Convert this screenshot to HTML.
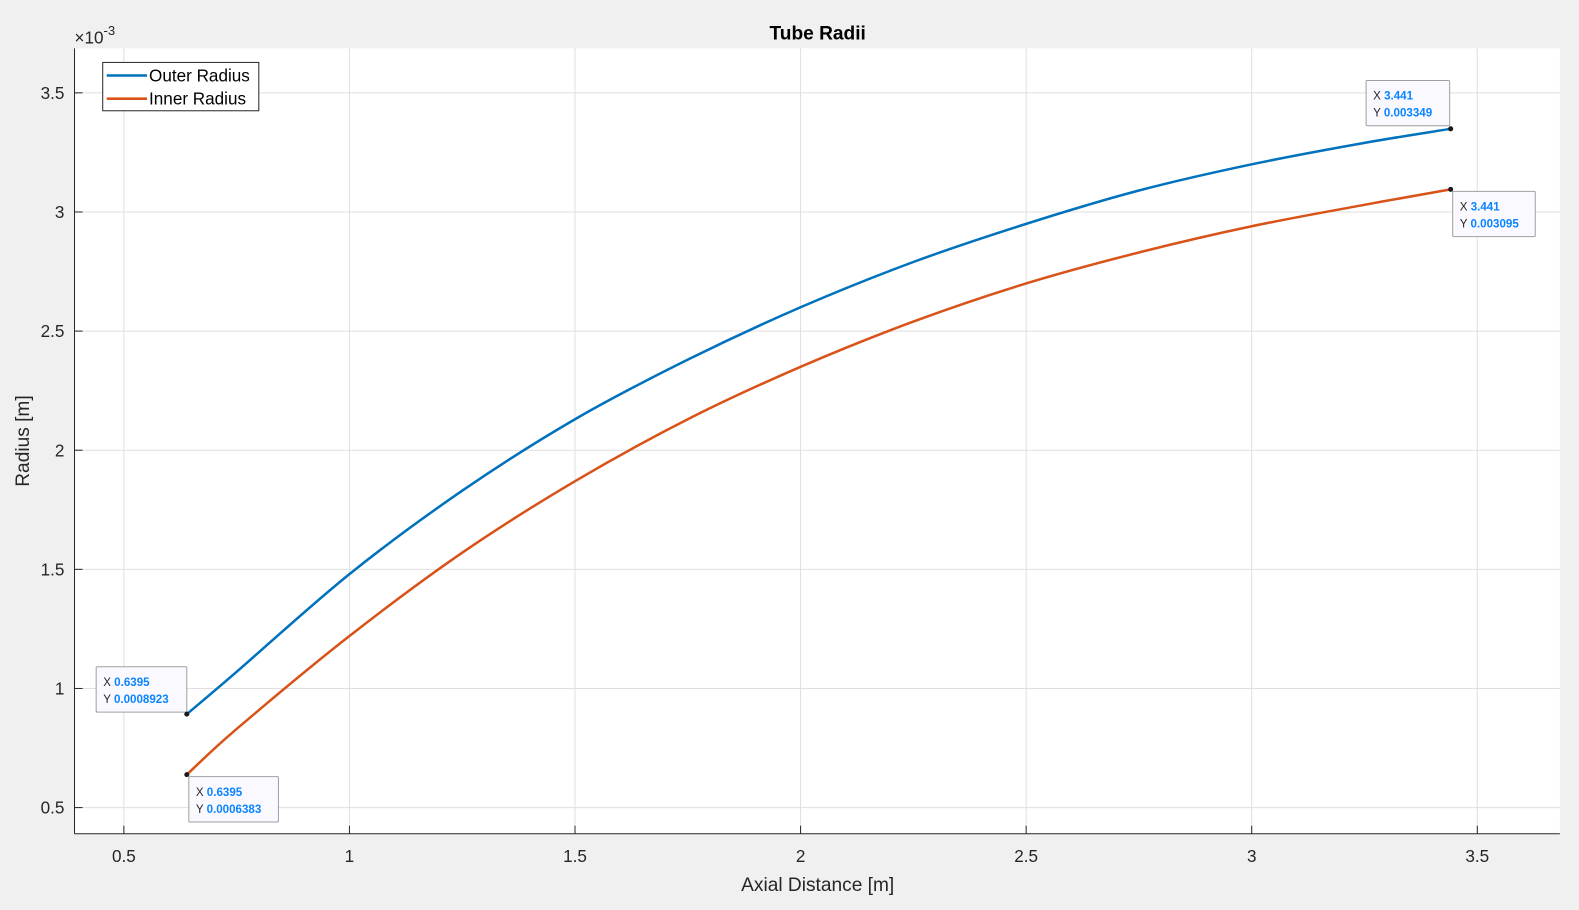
<!DOCTYPE html>
<html><head><meta charset="utf-8"><style>
body{margin:0;background:#f0f0f0;}
svg{display:block;font-family:"Liberation Sans",Arial,sans-serif;}
</style></head><body>
<svg id="chart" width="1579" height="910" viewBox="0 0 1568 903.7" preserveAspectRatio="none">
<rect x="74" y="48" width="1475" height="780" fill="#fff"/>
<g id="grid"></g><g id="axes"></g><g id="series"></g><g id="tips"></g>
<text x="812" y="39" text-anchor="middle" font-size="19" font-weight="bold" fill="#000">Tube Radii</text>
<text x="812" y="885" text-anchor="middle" font-size="19" fill="#262626">Axial Distance [m]</text>
<text transform="translate(29,438) rotate(-90)" text-anchor="middle" font-size="19" fill="#262626">Radius [m]</text>
<text x="74" y="43" font-size="17" fill="#262626">×10<tspan dy="-8" font-size="13">-3</tspan></text>
<g>
<rect x="102" y="62" width="155" height="48" fill="#fff" stroke="#262626" stroke-width="1"/>
<line x1="106" y1="75" x2="146" y2="75" stroke="#0072bd" stroke-width="2.5"/>
<text x="148" y="81" font-size="17" fill="#000">Outer Radius</text>
<line x1="106" y1="98" x2="146" y2="98" stroke="#d95319" stroke-width="2.5"/>
<text x="148" y="104" font-size="17" fill="#000">Inner Radius</text>
</g>
</svg>
<script>
const xs = [0.6395, 0.75, 1, 1.25, 1.5, 1.75, 2, 2.25, 2.5, 2.75, 3, 3.25, 3.441];
const outerR = [0.8923, 1.07, 1.48, 1.83, 2.13, 2.38, 2.60, 2.79, 2.95, 3.09, 3.20, 3.29, 3.349];
const innerR = [0.6383, 0.83, 1.22, 1.57, 1.87, 2.13, 2.35, 2.54, 2.70, 2.83, 2.94, 3.03, 3.095];
const xTicks = [0.5, 1, 1.5, 2, 2.5, 3, 3.5];
const yTicks = [0.5, 1, 1.5, 2, 2.5, 3, 3.5];
const tipX = ["0.6395", "0.6395", "3.441", "3.441"];
const tipY = ["0.0008923", "0.0006383", "0.003349", "0.003095"];

const NS = "http://www.w3.org/2000/svg";
const X = v => 123 + (v - 0.5) * 448;
const Y = v => 802 - (v - 0.5) * 236.6;
function mk(tag, attrs, parent) { const e = document.createElementNS(NS, tag); for (const k in attrs) e.setAttribute(k, attrs[k]); parent.appendChild(e); return e; }
const grid = document.getElementById('grid'), axes = document.getElementById('axes'), ser = document.getElementById('series'), tips = document.getElementById('tips');
xTicks.forEach(t => {
  const g = mk('line', {x1: X(t), x2: X(t), y1: 48, y2: 828, stroke: '#dfdfdf', 'stroke-width': 1}, grid);
  
  
  const tk = mk('line', {x1: X(t), x2: X(t), y1: 828, y2: 820, stroke: '#262626'}, axes);
  
  
  const l = mk('text', {x: X(t), y: 856, 'text-anchor': 'middle', 'font-size': 17, fill: '#262626'}, axes);
  l.textContent = t;
  
  
});
yTicks.forEach(t => {
  const g = mk('line', {x1: 74, x2: 1549, y1: Y(t), y2: Y(t), stroke: '#dfdfdf', 'stroke-width': 1}, grid);
  
  
  const tk = mk('line', {x1: 74, x2: 82, y1: Y(t), y2: Y(t), stroke: '#262626'}, axes);
  
  
  const l = mk('text', {x: 64, y: Y(t) + 6, 'text-anchor': 'end', 'font-size': 17, fill: '#262626'}, axes);
  l.textContent = t;
  
  
});
const ax1 = mk('line', {x1: 74, x2: 74, y1: 48, y2: 828, stroke: '#262626'}, axes);


const ax2 = mk('line', {x1: 74, x2: 1549, y1: 828, y2: 828, stroke: '#262626'}, axes);



function pathFor(ys) {
  const p = xs.map((x, i) => [X(x), Y(ys[i])]);
  let d = `M${p[0][0]},${p[0][1]}`;
  for (let i = 0; i < p.length - 1; i++) {
    const p0 = p[Math.max(0, i - 1)], p1 = p[i], p2 = p[i + 1], p3 = p[Math.min(p.length - 1, i + 2)];
    const c1 = [p1[0] + (p2[0] - p0[0]) / 6, p1[1] + (p2[1] - p0[1]) / 6];
    const c2 = [p2[0] - (p3[0] - p1[0]) / 6, p2[1] - (p3[1] - p1[1]) / 6];
    d += ` C${c1[0]},${c1[1]} ${c2[0]},${c2[1]} ${p2[0]},${p2[1]}`;
  }
  return d;
}
const po = mk('path', {d: pathFor(outerR), fill: 'none', stroke: '#0072bd', 'stroke-width': 2.5}, ser);


const pi = mk('path', {d: pathFor(innerR), fill: 'none', stroke: '#d95319', 'stroke-width': 2.5}, ser);



const n = xs.length - 1;
const tipPts = [[xs[0], outerR[0], -90, -47], [xs[0], innerR[0], 2, 2], [xs[n], outerR[n], -84, -48], [xs[n], innerR[n], 2, 2]];
const tipW = [90, 89, 83, 82];
tipPts.forEach((t, i) => {
  const px = X(t[0]), py = Y(t[1]);
  const g = mk('g', {}, tips);
  
  
  mk('rect', {x: px + t[2], y: py + t[3], width: tipW[i], height: 45, fill: '#f9f9ff', stroke: '#a0a0a0', rx: 1}, g);
  const a = mk('text', {x: px + t[2] + 7, y: py + t[3] + 19, 'font-size': 11.5, fill: '#262626'}, g);
  a.innerHTML = `X <tspan fill="#0a84ff" font-weight="bold">${tipX[i]}</tspan>`;
  const b = mk('text', {x: px + t[2] + 7, y: py + t[3] + 36, 'font-size': 11.5, fill: '#262626'}, g);
  b.innerHTML = `Y <tspan fill="#0a84ff" font-weight="bold">${tipY[i]}</tspan>`;
  const dot = mk('circle', {cx: px, cy: py, r: 2.5, fill: '#1a1a1a'}, g);
  
  
});
</script>
</body></html>
